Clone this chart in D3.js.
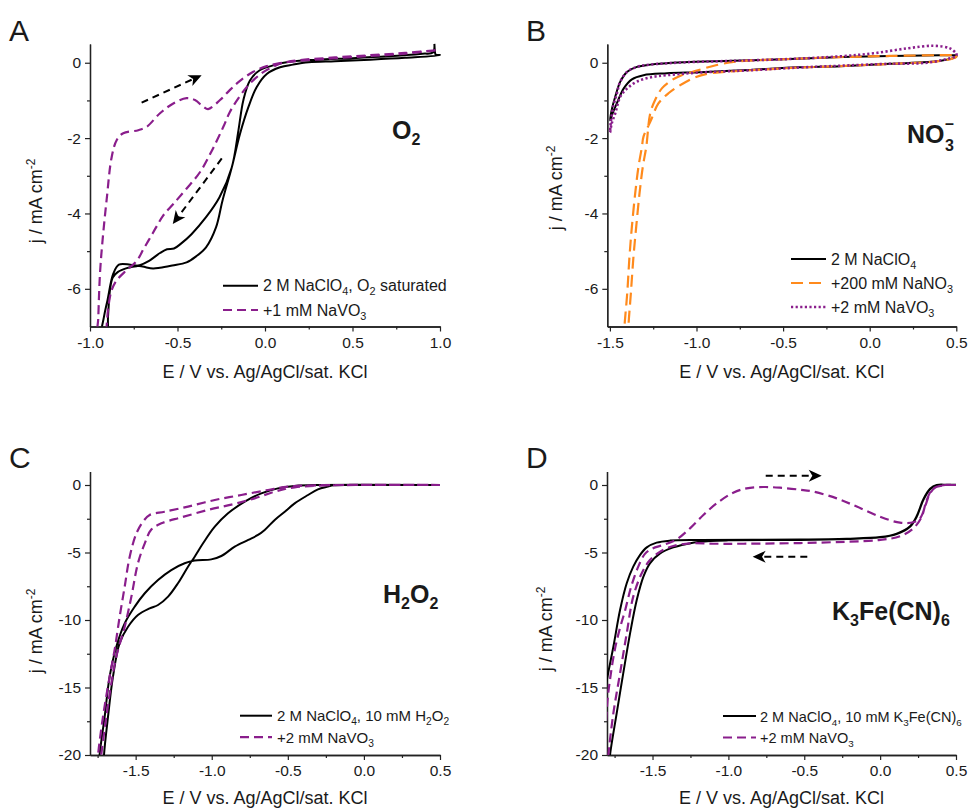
<!DOCTYPE html>
<html><head><meta charset="utf-8">
<script src="https://cdn.jsdelivr.net/npm/d3@7"></script>
<style>
body{margin:0;background:#fff}
svg text{font-family:Arial,"Liberation Sans",sans-serif;fill:#1a1a1a}
</style>
</head><body>
<svg id="c" width="968" height="810"></svg>
<script>
// ---------------- DATA ----------------
// Panel A (O2), [E (V), j (mA cm^-2)]
const A_NaClO4_O2 = [
 [0.968,0.5],[0.971,0.3],[0.975,0.22],[1.0,0.2],
 [0.8,0.13],[0.6,0.08],[0.4,0.04],[0.25,0.01],[0.16,-0.05],[0.086,-0.12],[0.01,-0.3],[-0.048,-0.65],[-0.095,-1.18],[-0.143,-1.89],[-0.19,-2.78],[-0.243,-3.66],[-0.28,-4.37],[-0.337,-4.9],[-0.394,-5.14],[-0.448,-5.3],[-0.53,-5.38],[-0.6,-5.44],[-0.64,-5.46],[-0.70,-5.41],[-0.77,-5.36],[-0.835,-5.36],[-0.867,-5.6],[-0.90,-6.3],[-0.92,-6.74],[-0.935,-7.3],
 [-0.905,-7.3],[-0.897,-6.74],[-0.885,-6.0],[-0.87,-5.7],[-0.84,-5.55],[-0.79,-5.45],[-0.72,-5.38],[-0.66,-5.25],[-0.6,-5.05],[-0.56,-4.95],[-0.52,-4.93],[-0.48,-4.8],[-0.42,-4.55],[-0.337,-4.1],[-0.26,-3.57],[-0.19,-2.78],[-0.152,-1.8],[-0.124,-1.0],[-0.086,-0.47],[-0.03,-0.2],[0.048,-0.07],[0.15,0.03],[0.3,0.08],[0.5,0.12],[0.7,0.17],[0.9,0.24],[0.96,0.27],[0.968,0.5]
];
const A_NaVO3 = [
 [0.975,0.33],[0.8,0.24],[0.6,0.18],[0.4,0.12],[0.2,0.05],[0.1,0.0],[0.067,-0.06],[-0.01,-0.25],[-0.086,-0.55],[-0.143,-0.88],[-0.2,-1.3],[-0.238,-1.7],[-0.3,-2.3],[-0.371,-2.9],[-0.45,-3.35],[-0.524,-3.75],[-0.581,-4.05],[-0.62,-4.35],[-0.657,-4.65],[-0.695,-4.95],[-0.733,-5.26],[-0.79,-5.5],[-0.847,-5.77],[-0.876,-6.03],[-0.895,-6.48],[-0.905,-7],[-0.91,-7.4],
 [-0.958,-7.4],[-0.953,-6.8],[-0.943,-5.6],[-0.928,-4.7],[-0.905,-3.64],[-0.876,-2.5],[-0.847,-2.05],[-0.81,-1.87],[-0.724,-1.79],[-0.676,-1.70],[-0.6,-1.34],[-0.524,-1.08],[-0.448,-0.94],[-0.40,-0.99],[-0.352,-1.17],[-0.325,-1.23],[-0.257,-0.99],[-0.2,-0.72],[-0.143,-0.48],[-0.067,-0.24],[0.01,-0.09],[0.086,-0.01],[0.2,0.07],[0.4,0.14],[0.6,0.2],[0.8,0.26],[0.975,0.33]
];
const A_arrows = [[[-0.705,-1.06],[-0.362,-0.33]],[[-0.247,-2.54],[-0.527,-4.28]]];

// Panel B (NO3-)
const B_NaClO4 = [
 [0.5,0.2],[0.5,0.16],[0.41,0.05],[0.117,-0.03],[-0.17,-0.09],[-0.42,-0.12],[-0.69,-0.19],[-0.979,-0.25],[-1.171,-0.28],[-1.306,-0.33],[-1.373,-0.44],[-1.42,-0.68],[-1.46,-1.08],[-1.485,-1.35],[-1.499,-1.53],
 [-1.487,-1.2],[-1.469,-0.9],[-1.44,-0.5],[-1.40,-0.24],[-1.344,-0.11],[-1.267,-0.05],[-1.075,0.01],[-0.787,0.05],[-0.46,0.1],[-0.171,0.15],[0.117,0.18],[0.406,0.2],[0.5,0.2]
];
const B_NaNO3 = [
 [0.5,0.2],[0.5,0.16],[0.41,0.05],[0.117,-0.03],[-0.17,-0.09],[-0.42,-0.13],[-0.69,-0.2],[-0.825,-0.24],[-0.921,-0.28],[-1.008,-0.39],[-1.085,-0.57],[-1.162,-0.81],[-1.22,-1.08],[-1.267,-1.57],[-1.306,-1.96],[-1.315,-2.23],[-1.335,-2.76],[-1.354,-3.47],[-1.373,-4.35],[-1.387,-5.15],[-1.40,-6.12],[-1.416,-7.0],[-1.42,-7.4],
 [-1.395,-7.4],[-1.393,-7.0],[-1.379,-6.12],[-1.364,-5.15],[-1.348,-4.35],[-1.329,-3.47],[-1.31,-2.76],[-1.29,-2.23],[-1.267,-1.34],[-1.239,-0.99],[-1.2,-0.68],[-1.142,-0.46],[-1.085,-0.33],[-0.998,-0.21],[-0.883,-0.06],[-0.767,0.03],[-0.46,0.1],[-0.171,0.15],[0.117,0.18],[0.406,0.2],[0.5,0.2]
];
const B_NaVO3 = [
 [0.5,0.25],[0.5,0.18],[0.464,0.12],[0.33,0.0],[0.1,-0.03],[-0.17,-0.08],[-0.42,-0.13],[-0.69,-0.2],[-0.98,-0.26],[-1.17,-0.33],[-1.267,-0.39],[-1.344,-0.5],[-1.40,-0.68],[-1.44,-0.9],[-1.469,-1.34],[-1.49,-1.62],[-1.499,-1.85],
 [-1.494,-1.55],[-1.48,-1.15],[-1.46,-0.82],[-1.44,-0.5],[-1.40,-0.24],[-1.344,-0.11],[-1.267,-0.05],[-1.075,0.01],[-0.787,0.05],[-0.46,0.1],[-0.171,0.17],[0.021,0.25],[0.214,0.38],[0.367,0.45],[0.464,0.38],[0.5,0.25]
];

// Panel C (H2O2)
const C_H2O2 = [
 [0.5,0],[0.0,0],[-0.2,-0.02],[-0.236,-0.12],[-0.302,-0.32],[-0.367,-0.74],[-0.455,-1.36],[-0.52,-1.98],[-0.586,-2.59],[-0.652,-3.33],[-0.696,-3.7],[-0.76,-4.07],[-0.849,-4.57],[-0.937,-5.26],[-1.003,-5.51],[-1.112,-5.6],[-1.178,-5.8],[-1.266,-6.3],[-1.353,-7.04],[-1.44,-8.02],[-1.506,-9.01],[-1.572,-10.25],[-1.627,-11.98],[-1.671,-14.2],[-1.704,-17.2],[-1.737,-20],[-1.745,-21.5],
 [-1.712,-21.5],[-1.708,-20],[-1.682,-17.2],[-1.649,-14.2],[-1.605,-11.7],[-1.55,-10.5],[-1.485,-9.63],[-1.408,-9.14],[-1.353,-8.89],[-1.287,-8.27],[-1.222,-7.28],[-1.156,-6.05],[-1.112,-5.31],[-1.057,-4.32],[-0.98,-3.09],[-0.893,-2.1],[-0.783,-1.23],[-0.674,-0.62],[-0.565,-0.25],[-0.455,-0.07],[-0.3,0],[0.5,0]
];
const C_NaVO3 = [
 [0.5,0],[-0.2,-0.02],[-0.455,-0.17],[-0.586,-0.49],[-0.718,-0.99],[-0.871,-1.45],[-1.025,-1.85],[-1.2,-2.4],[-1.331,-2.84],[-1.397,-3.3],[-1.44,-4.32],[-1.485,-5.8],[-1.528,-8.27],[-1.572,-10.5],[-1.627,-12.7],[-1.66,-14.7],[-1.693,-17.2],[-1.726,-20],[-1.735,-21.5],
 [-1.755,-21.5],[-1.747,-20],[-1.715,-17.2],[-1.671,-14.2],[-1.638,-12.2],[-1.605,-9.75],[-1.572,-7.53],[-1.539,-5.31],[-1.495,-3.58],[-1.452,-2.72],[-1.408,-2.22],[-1.31,-1.98],[-1.156,-1.6],[-0.98,-1.11],[-0.806,-0.74],[-0.63,-0.37],[-0.499,-0.12],[-0.3,-0.02],[0.5,0]
];

// Panel D (K3Fe(CN)6)
const D_K3FeCN6 = [
 [0.5,0.02],[0.44,0.01],[0.373,-0.02],[0.329,-0.32],[0.285,-1.11],[0.241,-2.35],[0.197,-3.09],[0.109,-3.63],[0.0,-3.88],[-0.22,-4.0],[-0.528,-4.07],[-1.0,-4.1],[-1.187,-4.2],[-1.275,-4.37],[-1.363,-4.62],[-1.45,-5.06],[-1.517,-5.8],[-1.56,-6.79],[-1.604,-8.52],[-1.648,-10.99],[-1.693,-13.95],[-1.736,-16.9],[-1.78,-20],[-1.786,-21],
 null,
 [-1.81,-15.2],[-1.8,-14.4],[-1.758,-11.98],[-1.714,-9.26],[-1.67,-7.28],[-1.627,-6.05],[-1.583,-5.19],[-1.538,-4.62],[-1.473,-4.27],[-1.385,-4.12],[-1.187,-4.07],[-0.528,-4.04],[-0.22,-3.98],[0.0,-3.86],[0.109,-3.6],[0.197,-3.05],[0.241,-2.3],[0.285,-1.05],[0.329,-0.28],[0.373,0.0],[0.44,0.02],[0.5,0.02]
];
const D_NaVO3 = [
 [0.5,0],[0.44,0],[0.351,-0.25],[0.307,-1.11],[0.274,-2.35],[0.219,-3.21],[0.131,-3.8],[0.0,-4.07],[-0.22,-4.2],[-0.528,-4.3],[-0.9,-4.35],[-1.1,-4.35],[-1.253,-4.32],[-1.363,-4.52],[-1.45,-4.94],[-1.517,-5.56],[-1.571,-6.54],[-1.627,-8.27],[-1.67,-10.99],[-1.714,-13.95],[-1.758,-16.9],[-1.791,-20],[-1.797,-21],
 null,
 [-1.81,-18.5],[-1.797,-16],[-1.775,-14],[-1.745,-12],[-1.712,-10.5],[-1.68,-9.26],[-1.64,-7.5],[-1.594,-6.05],[-1.55,-5.1],[-1.5,-4.7],[-1.429,-4.44],[-1.34,-4.02],[-1.253,-3.21],[-1.165,-2.22],[-1.077,-1.36],[-0.968,-0.57],[-0.88,-0.25],[-0.77,-0.15],[-0.66,-0.2],[-0.528,-0.35],[-0.44,-0.49],[-0.286,-0.99],[-0.154,-1.6],[-0.001,-2.35],[0.131,-2.79],[0.219,-2.76],[0.263,-2.47],[0.296,-1.6],[0.329,-0.62],[0.373,-0.12],[0.439,0.01],[0.5,0]
];
const D_arrows = [[[-0.754,0.69],[-0.385,0.69]],[[-0.48,-5.31],[-0.84,-5.31]]];

// Ticks
const AB_yTicks = [0,-2,-4,-6], AB_yMinor = [-1,-3,-5];
const A_xTicks = [-1,-0.5,0,0.5,1], A_xMinor = [-0.75,-0.25,0.25,0.75];
const BCD_xTicks = [-1.5,-1,-0.5,0,0.5], BCD_xMinor = [-1.25,-0.75,-0.25,0.25];
const CD_xMinorExtra = [-1.75];
const CD_yTicks = [0,-5,-10,-15,-20], CD_yMinor = [-2.5,-7.5,-12.5,-17.5];

// Texts
const xLabel = "E / V vs. Ag/AgCl/sat. KCl";
const yLabel = ["j / mA cm","^-2"];
const A_legend = [["2 M NaClO","_4",", O","_2"," saturated"],["+1 mM NaVO","_3"]];
const B_legend = [["2 M NaClO","_4"],["+200 mM NaNO","_3"],["+2 mM NaVO","_3"]];
const C_legend = [["2 M NaClO","_4",", 10 mM H","_2","O","_2"],["+2 mM NaVO","_3"]];
const D_legend = [["2 M NaClO","_4",", 10 mM K","_3","Fe(CN)","_6"],["+2 mM NaVO","_3"]];

// ---------------- STYLES ----------------
const BLACK = {stroke:"#000", width:2, dash:null};
const PURPLE_DASH = {stroke:"#8a1e8c", width:2.2, dash:"9,5"};
const PURPLE_DOT = {stroke:"#8a1e8c", width:2.6, dash:"2.2,2.4"};
const ORANGE_DASH = {stroke:"#ff8a1c", width:2.2, dash:"12,6"};

const svg = d3.select("#c");
const defs = svg.append("defs");

function rich(textSel, parts, base, small, sh){
  let cur = 0;
  parts.forEach(p=>{
    const sub = p[0]==="_", sup = p[0]==="^";
    const target = sub ? sh : sup ? -sh : 0;
    textSel.append("tspan").attr("dy", target-cur).attr("font-size", (sub||sup)?small:base).text((sub||sup)?p.slice(1):p);
    cur = target;
  });
}

function panel(cfg){
  const g = svg.append("g");
  const x = d3.scaleLinear().domain(cfg.xd).range(cfg.xr);
  const y = d3.scaleLinear().domain(cfg.yd).range(cfg.yr);
  const cid = "clip"+cfg.name;
  defs.append("clipPath").attr("id",cid).append("rect")
    .attr("x",cfg.xr[0]).attr("y",cfg.yr[1]-4)
    .attr("width",cfg.xr[1]-cfg.xr[0]+2).attr("height",cfg.yr[0]-cfg.yr[1]+4);

  g.append("g").attr("transform",`translate(0,${cfg.yr[0]})`)
    .call(d3.axisBottom(x).tickValues(cfg.xTicks).tickFormat(d=>d.toFixed(1)).tickSize(5).tickSizeOuter(0).tickPadding(5));
  g.append("g").attr("transform",`translate(0,${cfg.yr[0]})`)
    .call(d3.axisBottom(x).tickValues(cfg.xMinor).tickFormat("").tickSize(3).tickSizeOuter(0));
  g.append("g").attr("transform",`translate(${cfg.xr[0]},0)`)
    .call(d3.axisLeft(y).tickValues(cfg.yTicks).tickFormat(d=>String(d)).tickSize(5).tickSizeOuter(0).tickPadding(4));
  g.append("g").attr("transform",`translate(${cfg.xr[0]},0)`)
    .call(d3.axisLeft(y).tickValues(cfg.yMinor).tickFormat("").tickSize(3).tickSizeOuter(0));
  g.selectAll(".domain").attr("stroke","#222").attr("stroke-width",1.3);
  g.selectAll(".tick line").attr("stroke","#222").attr("stroke-width",1.2);
  g.selectAll(".tick text").attr("font-size",15.5).attr("font-family","Arial, 'Liberation Sans', sans-serif").attr("fill","#1a1a1a");

  const line = d3.line().defined(d=>d!==null).x(d=>x(d[0])).y(d=>y(d[1])).curve(d3.curveCatmullRom.alpha(0.5));
  const cg = g.append("g").attr("clip-path",`url(#${cid})`);
  cfg.series.forEach(s=>{
    cg.append("path").attr("d",line(s.data)).attr("fill","none")
      .attr("stroke",s.style.stroke).attr("stroke-width",s.style.width)
      .attr("stroke-dasharray",s.style.dash).attr("stroke-linejoin","round");
  });

  (cfg.arrows||[]).forEach(a=>{
    const p0=[x(a[0][0]),y(a[0][1])], p1=[x(a[1][0]),y(a[1][1])];
    const dx=p1[0]-p0[0], dy=p1[1]-p0[1], L=Math.hypot(dx,dy);
    const u=[dx/L,dy/L], n=[-u[1],u[0]];
    const hl=13, hw=6;
    const end=[p1[0]-u[0]*hl*0.7,p1[1]-u[1]*hl*0.7];
    g.append("line").attr("x1",p0[0]).attr("y1",p0[1]).attr("x2",end[0]).attr("y2",end[1])
      .attr("stroke","#000").attr("stroke-width",2).attr("stroke-dasharray","7,5");
    const b=[p1[0]-u[0]*hl,p1[1]-u[1]*hl], notch=[p1[0]-u[0]*hl*0.72,p1[1]-u[1]*hl*0.72];
    g.append("path").attr("d",`M${p1[0]},${p1[1]}L${b[0]+n[0]*hw},${b[1]+n[1]*hw}L${notch[0]},${notch[1]}L${b[0]-n[0]*hw},${b[1]-n[1]*hw}Z`)
      .attr("fill","#000");
  });

  g.append("text").attr("x",(cfg.xr[0]+cfg.xr[1])/2).attr("y",cfg.xlabY).attr("text-anchor","middle")
    .attr("font-size",18).text(xLabel);
  const yl = g.append("text").attr("transform",`translate(${cfg.ylab[0]},${cfg.ylab[1]}) rotate(-90)`)
    .attr("text-anchor","middle").attr("font-size",18);
  rich(yl, yLabel, 18, 12, 7);

  g.append("text").attr("x",cfg.letter[0]).attr("y",cfg.letter[1]).attr("font-size",30).text(cfg.name);

  cfg.legend.forEach((parts,i)=>{
    const ly = cfg.leg.y + i*cfg.leg.dy;
    const st = cfg.series[cfg.legOrder[i]].style;
    g.append("line").attr("x1",cfg.leg.x1).attr("x2",cfg.leg.x2).attr("y1",ly).attr("y2",ly)
      .attr("stroke",st.stroke).attr("stroke-width",st.width).attr("stroke-dasharray",st.dash);
    const t = g.append("text").attr("x",cfg.leg.tx).attr("y",ly+5.5).attr("font-size",cfg.leg.fs);
    rich(t, parts, cfg.leg.fs, cfg.leg.fs*0.68, 4);
  });
  return {g,x,y};
}

function species(parts, xStart, yBase){
  const t = svg.append("text").attr("x",xStart).attr("y",yBase).attr("font-weight","bold").attr("font-size",25);
  rich(t, parts, 25, 16, 6);
  return t;
}

panel({name:"A", xd:[-1,1], xr:[90,440], yd:[-7,0.5], yr:[326.5,43.9],
  xTicks:A_xTicks, xMinor:A_xMinor, yTicks:AB_yTicks, yMinor:AB_yMinor,
  series:[{data:A_NaClO4_O2, style:BLACK},{data:A_NaVO3, style:PURPLE_DASH}],
  arrows:A_arrows, xlabY:378, ylab:[42,201], letter:[9,40.5],
  legend:A_legend, legOrder:[0,1], leg:{x1:223,x2:258,tx:263,y:285.7,dy:24.3,fs:16}});
species(["O","_2"],392,138.5);

panel({name:"B", xd:[-1.515,0.5], xr:[607.3,956.3], yd:[-7,0.5], yr:[326.5,43.9],
  xTicks:BCD_xTicks, xMinor:BCD_xMinor, yTicks:AB_yTicks, yMinor:AB_yMinor,
  series:[{data:B_NaClO4, style:BLACK},{data:B_NaNO3, style:ORANGE_DASH},{data:B_NaVO3, style:PURPLE_DOT}],
  xlabY:378, ylab:[562,188], letter:[526,40.5],
  legend:B_legend, legOrder:[0,1,2], leg:{x1:791,x2:826,tx:831,y:259,dy:24,fs:16}});
{
  const t = svg.append("text").attr("x",907).attr("y",142.7).attr("font-weight","bold").attr("font-size",25).text("NO");
  const w = t.node().getComputedTextLength();
  svg.append("text").attr("x",907+w+0.5).attr("y",150.5).attr("font-weight","bold").attr("font-size",16).text("3");
  svg.append("text").attr("x",907+w+0.5).attr("y",129).attr("font-weight","bold").attr("font-size",16).text("\u2013");
}

panel({name:"C", xd:[-1.8,0.5], xr:[90,440], yd:[-20,1], yr:[755,471.5],
  xTicks:BCD_xTicks, xMinor:BCD_xMinor.concat(CD_xMinorExtra), yTicks:CD_yTicks, yMinor:CD_yMinor,
  series:[{data:C_H2O2, style:BLACK},{data:C_NaVO3, style:PURPLE_DASH}],
  xlabY:804, ylab:[42,631], letter:[9,468],
  legend:C_legend, legOrder:[0,1], leg:{x1:240,x2:272,tx:277,y:715.7,dy:21.5,fs:15}});
species(["H","_2","O","_2"],383,603);

panel({name:"D", xd:[-1.8,0.5], xr:[607,956], yd:[-20,1], yr:[755,471.5],
  xTicks:BCD_xTicks, xMinor:BCD_xMinor.concat(CD_xMinorExtra), yTicks:CD_yTicks, yMinor:CD_yMinor,
  series:[{data:D_K3FeCN6, style:BLACK},{data:D_NaVO3, style:PURPLE_DASH}],
  arrows:D_arrows, xlabY:804, ylab:[552,629], letter:[526,468],
  legend:D_legend, legOrder:[0,1], leg:{x1:723,x2:756,tx:760,y:716,dy:21.5,fs:14.5}});
species(["K","_3","Fe(CN)","_6"],832,620);
</script>
</body></html>
